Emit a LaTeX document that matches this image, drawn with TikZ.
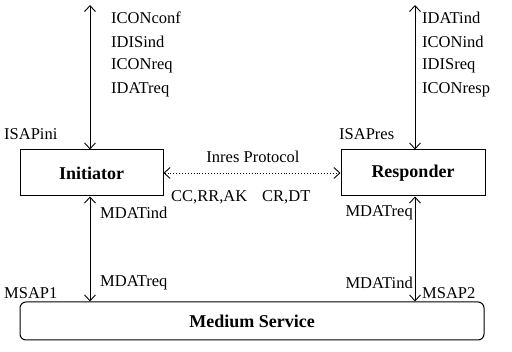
\documentclass[tikz,border=0pt]{standalone}
\usepackage{fontspec}
\setmainfont{Liberation Serif}
\usetikzlibrary{arrows.meta}
\begin{document}
\begin{tikzpicture}[x=1pt,y=-1pt,
  box/.style={draw,line width=1pt,minimum height=46pt,inner sep=0pt,font=\fontsize{18}{20}\selectfont\bfseries},
  lbl/.style={inner sep=0pt,font=\fontsize{16.5}{19}\selectfont},
  conn/.style={line width=0.9pt,{Straight Barb[length=6pt,width=11pt]}-{Straight Barb[length=6pt,width=11pt]}},
  proto/.style={line width=0.9pt,dotted,{Straight Barb[length=6pt,width=11pt]}-{Straight Barb[length=6pt,width=11pt]}}]
\useasboundingbox (0,0) rectangle (512,352);
\node[box,minimum width=143pt] (ini) at (91.5,173) {Initiator};
\node[box,minimum width=144pt] (res) at (413,173) {Responder};
\node[box,minimum width=464pt,minimum height=38pt,rounded corners=6pt] (med) at (252,321) {Medium Service};
\coordinate (lt) at (90,5);
\coordinate (rt) at (415,5);
\draw[conn] (lt) -- (lt |- ini.north);
\draw[conn] (rt) -- (rt |- res.north);
\draw[conn] (lt |- ini.south) -- (lt |- med.north);
\draw[conn] (rt |- res.south) -- (rt |- med.north);
\draw[proto] (ini.east) -- (res.west);
% labels
\node[lbl,anchor=west] (l1) at (111,18) {ICONconf};
\node[lbl,anchor=west] (l2) at (111,42) {IDISind};
\node[lbl,anchor=west] (l3) at (111,66) {ICONreq};
\node[lbl,anchor=west] (l4) at (111,90) {IDATreq};
\node[lbl,anchor=west] (r1) at (422,18) {IDATind};
\node[lbl,anchor=west] (r2) at (422,42) {ICONind};
\node[lbl,anchor=west] (r3) at (422,66) {IDISreq};
\node[lbl,anchor=west] (r4) at (422,90) {ICONresp};
\node[lbl,anchor=west] (isi) at (4,134) {ISAPini};
\node[lbl,anchor=west] (isr) at (339,134) {ISAPres};
\node[lbl] (ip) at (253,157) {Inres Protocol};
\node[lbl,anchor=west] (cc) at (171,197) {CC,RR,AK};
\node[lbl,anchor=west] (cr) at (262,197) {CR,DT};
\node[lbl,anchor=west] (mi1) at (100,213) {MDATind};
\node[lbl,anchor=west] (mr1) at (100,283) {MDATreq};
\node[lbl,anchor=east] (mr2) at (413,213) {MDATreq};
\node[lbl,anchor=east] (mi2) at (413,283) {MDATind};
\node[lbl,anchor=west] (ms1) at (4,293) {MSAP1};
\node[lbl,anchor=west] (ms2) at (422,293) {MSAP2};
\end{tikzpicture}
\end{document}
